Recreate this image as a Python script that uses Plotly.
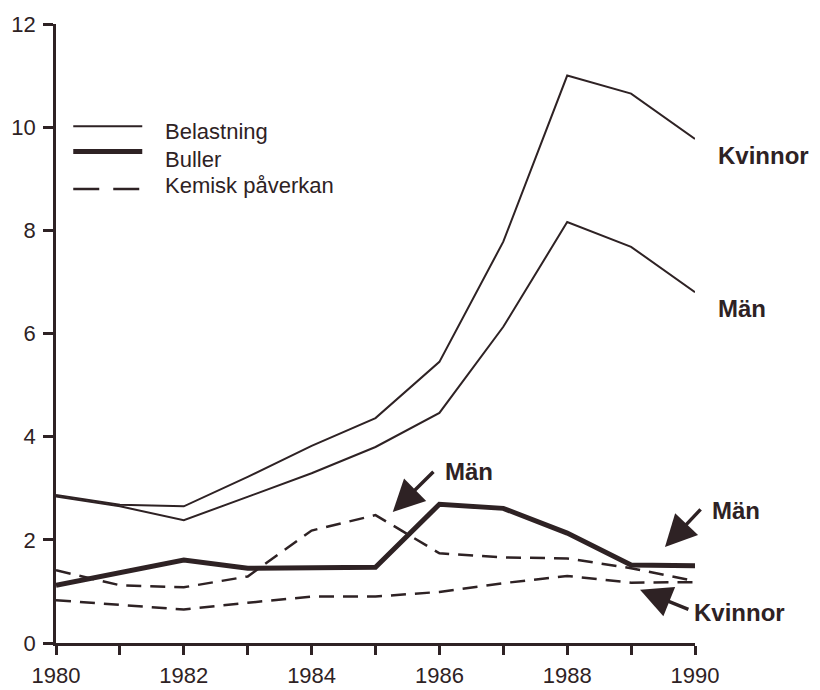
import plotly.graph_objects as go

years = list(range(1980, 1991))
belastning_kvinnor = [2.87, 2.68, 2.65, 3.22, 3.82, 4.36, 5.45, 7.78, 11.0, 10.65, 9.77]
belastning_man = [2.84, 2.65, 2.38, 2.84, 3.29, 3.80, 4.46, 6.13, 8.16, 7.68, 6.80]
buller_man = [1.12, 1.37, 1.61, 1.45, 1.45, 1.47, 2.69, 2.61, 2.13, 1.51, 1.50]
kemisk_man = [1.41, 1.12, 1.08, 1.29, 2.18, 2.48, 1.74, 1.66, 1.64, 1.45, 1.20]
kemisk_kvinnor = [0.83, 0.74, 0.65, 0.78, 0.90, 0.90, 0.99, 1.16, 1.30, 1.17, 1.18]

xtick_vals = years
xtick_text = [str(y) if y % 2 == 0 else "" for y in years]
ytick_vals = [0, 2, 4, 6, 8, 10, 12]

INK = "#2e2224"
FONT = "Liberation Sans, Arial, sans-serif"

fig = go.Figure()
fig.add_trace(go.Scatter(x=years, y=belastning_kvinnor, mode="lines",
                         line=dict(color=INK, width=2), showlegend=False))
fig.add_trace(go.Scatter(x=years, y=belastning_man, mode="lines",
                         line=dict(color=INK, width=2), showlegend=False))
fig.add_trace(go.Scatter(x=years, y=kemisk_man, mode="lines",
                         line=dict(color=INK, width=2.5, dash="15px,9px"), showlegend=False))
fig.add_trace(go.Scatter(x=years, y=kemisk_kvinnor, mode="lines",
                         line=dict(color=INK, width=2.5, dash="15px,9px"), showlegend=False))
fig.add_trace(go.Scatter(x=years, y=buller_man, mode="lines",
                         line=dict(color=INK, width=5), showlegend=False))

# custom legend
legend_items = [("Belastning", 2, "solid", 10.02, 9.92), ("Buller", 5, "solid", 9.53, 9.38),
                ("Kemisk påverkan", 2.5, "26px,14px", 8.80, 8.86)]
for name, w, d, yy, ty in legend_items:
    fig.add_shape(type="line", xref="x", yref="y", x0=1980.27, x1=1981.35, y0=yy, y1=yy,
                  line=dict(color=INK, width=w, dash=d))
    fig.add_annotation(x=1981.68, y=ty, xref="x", yref="y", text=name, showarrow=False,
                       xanchor="left", yanchor="middle", font=dict(family=FONT, size=22, color=INK))

# right-side labels (paper coords)
labels = [("Kvinnor", 1.033, 0.787), ("Män", 1.033, 0.540),
          ("Män", 1.023, 0.2145), ("Kvinnor", 0.995, 0.05)]
for t, xx, yy in labels:
    fig.add_annotation(x=xx, y=yy, xref="paper", yref="paper", text="<b>" + t + "</b>",
                       showarrow=False, xanchor="left", yanchor="middle",
                       font=dict(family=FONT, size=24, color=INK))

arrows = [(1985.27, 2.54, 1985.93, 3.35),
          (1989.53, 1.86, 1990.11, 2.62),
          (1989.14, 1.03, 1989.92, 0.64)]
for tx, ty, axx, ayy in arrows:
    fig.add_annotation(x=tx, y=ty, ax=axx, ay=ayy, xref="x", yref="y", axref="x", ayref="y",
                       text="", showarrow=True, arrowhead=2, arrowsize=1.8, arrowwidth=3.5,
                       arrowcolor=INK, standoff=0, startstandoff=0)
fig.add_annotation(x=1986.05, y=3.33, xref="x", yref="y", text="<b>Män</b>", showarrow=False,
                   xanchor="left", yanchor="middle", font=dict(family=FONT, size=24, color=INK))

fig.update_layout(
    width=812, height=682,
    margin=dict(l=48, r=125, t=16, b=47),
    paper_bgcolor="white", plot_bgcolor="white",
    font=dict(family=FONT, size=22, color=INK),
    xaxis=dict(range=[1980, 1990], tickvals=xtick_vals, ticktext=xtick_text, automargin=False,
               showgrid=False, zeroline=False, showline=True, linecolor=INK, linewidth=2.5,
               ticks="outside", ticklen=9, tickwidth=2.5, tickcolor=INK, ticklabelstandoff=2),
    yaxis=dict(range=[0, 12], tickvals=ytick_vals, showgrid=False, zeroline=False, automargin=False,
               showline=True, linecolor=INK, linewidth=2.5,
               ticks="outside", ticklen=10, tickwidth=2.5, tickcolor=INK, ticklabelstandoff=3),
)

fig.write_html("out.html")
